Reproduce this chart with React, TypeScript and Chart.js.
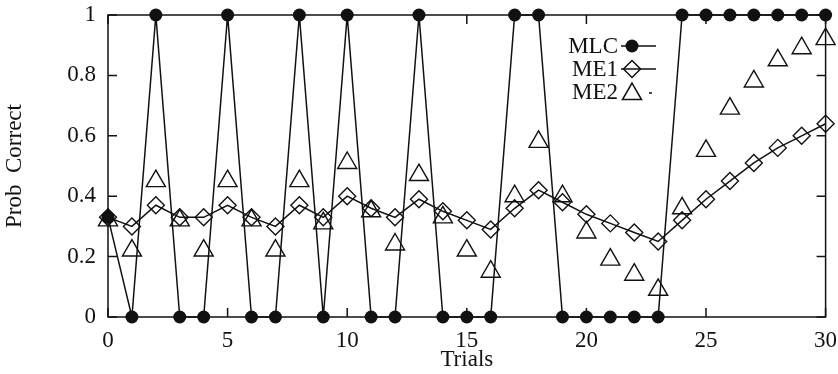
import React, { useEffect, useRef } from 'react';
import { Chart, registerables } from 'chart.js';

Chart.register(...registerables);

const trials = [0, 1, 2, 3, 4, 5, 6, 7, 8, 9, 10, 11, 12, 13, 14, 15, 16, 17, 18, 19, 20, 21, 22, 23, 24, 25, 26, 27, 28, 29, 30];
const mlc = [0.33, 0, 1, 0, 0, 1, 0, 0, 1, 0, 1, 0, 0, 1, 0, 0, 0, 1, 1, 0, 0, 0, 0, 0, 1, 1, 1, 1, 1, 1, 1];
const me1 = [0.33, 0.30, 0.37, 0.33, 0.33, 0.37, 0.33, 0.30, 0.37, 0.33, 0.40, 0.36, 0.33, 0.39, 0.35, 0.32, 0.29, 0.36, 0.42, 0.38, 0.34, 0.31, 0.28, 0.25, 0.32, 0.39, 0.45, 0.51, 0.56, 0.60, 0.64];
const me2 = [0.32, 0.22, 0.45, 0.32, 0.22, 0.45, 0.32, 0.22, 0.45, 0.31, 0.51, 0.35, 0.24, 0.47, 0.33, 0.22, 0.15, 0.40, 0.58, 0.40, 0.28, 0.19, 0.14, 0.09, 0.36, 0.55, 0.69, 0.78, 0.85, 0.89, 0.92];

const xTicks = [0, 5, 10, 15, 20, 25, 30];
const yTicks = [0, 0.2, 0.4, 0.6, 0.8, 1];
const seriesNames = ['MLC', 'ME1', 'ME2'];
const xTitle = 'Trials';
const yTitle = 'Prob  Correct';

const INK = '#111';
const FONT = "'Liberation Serif', 'Times New Roman', serif";
const FS = 23;

const framePlugin = {
  id: 'frameTicks',
  beforeDatasetsDraw(chart: any) {
    const { ctx, chartArea, scales } = chart;
    const { left, right, top, bottom } = chartArea;
    const len = 9;
    ctx.save();
    ctx.strokeStyle = INK;
    ctx.lineWidth = 1.5;
    ctx.strokeRect(left, top, right - left, bottom - top);
    ctx.beginPath();
    xTicks.forEach((v) => {
      const px = scales.x.getPixelForValue(v);
      ctx.moveTo(px, bottom);
      ctx.lineTo(px, bottom - len);
      ctx.moveTo(px, top);
      ctx.lineTo(px, top + len);
    });
    yTicks.forEach((v) => {
      const py = scales.y.getPixelForValue(v);
      ctx.moveTo(left, py);
      ctx.lineTo(left + len, py);
      ctx.moveTo(right, py);
      ctx.lineTo(right - len, py);
    });
    ctx.stroke();
    ctx.restore();
  },
};

const legendPlugin = {
  id: 'insideLegend',
  afterDatasetsDraw(chart: any) {
    const { ctx } = chart;
    const textRight = 618;
    const rows = [46, 69, 92];
    const mx = 632;
    ctx.save();
    ctx.fillStyle = INK;
    ctx.strokeStyle = INK;
    ctx.lineWidth = 1.5;
    ctx.font = `${FS}px ${FONT}`;
    ctx.textAlign = 'right';
    ctx.textBaseline = 'middle';
    seriesNames.forEach((name, i) => {
      ctx.fillText(name, textRight, rows[i] + 1);
    });
    // MLC sample
    ctx.beginPath();
    ctx.moveTo(621, rows[0]);
    ctx.lineTo(656, rows[0]);
    ctx.stroke();
    ctx.beginPath();
    ctx.arc(mx, rows[0], 6.5, 0, Math.PI * 2);
    ctx.fill();
    // ME1 sample
    ctx.beginPath();
    ctx.moveTo(621, rows[1]);
    ctx.lineTo(656, rows[1]);
    ctx.stroke();
    ctx.beginPath();
    ctx.moveTo(mx, rows[1] - 8.5);
    ctx.lineTo(mx + 8.5, rows[1]);
    ctx.lineTo(mx, rows[1] + 8.5);
    ctx.lineTo(mx - 8.5, rows[1]);
    ctx.closePath();
    ctx.stroke();
    // ME2 sample
    const r = 11;
    const cy = rows[2] + 2;
    ctx.beginPath();
    ctx.moveTo(mx, cy - r);
    ctx.lineTo(mx + r * Math.sin((2 * Math.PI) / 3), cy + r / 2);
    ctx.lineTo(mx - r * Math.sin((2 * Math.PI) / 3), cy + r / 2);
    ctx.closePath();
    ctx.stroke();
    ctx.beginPath();
    ctx.moveTo(649, rows[2] + 1);
    ctx.lineTo(652, rows[2] + 1);
    ctx.stroke();
    ctx.restore();
  },
};

export default function App() {
  const ref = useRef<HTMLCanvasElement | null>(null);

  useEffect(() => {
    if (!ref.current) return;
    const toPts = (arr: number[]) => trials.map((t, i) => ({ x: t, y: arr[i] }));
    const chart = new Chart(ref.current, {
      type: 'line',
      data: {
        datasets: [
          {
            label: seriesNames[0],
            data: toPts(mlc),
            borderColor: INK,
            borderWidth: 1.5,
            backgroundColor: INK,
            pointStyle: 'circle',
            pointRadius: 6.5,
            pointBorderWidth: 0,
            pointBackgroundColor: INK,
            tension: 0,
            clip: false,
            order: 3,
          },
          {
            label: seriesNames[1],
            data: toPts(me1),
            borderColor: INK,
            borderWidth: 1.5,
            backgroundColor: 'rgba(0,0,0,0)',
            pointStyle: 'rectRot',
            pointRadius: 8.5,
            pointBorderWidth: 1.4,
            pointBorderColor: INK,
            pointBackgroundColor: 'rgba(0,0,0,0)',
            tension: 0,
            clip: false,
            order: 2,
          },
          {
            label: seriesNames[2],
            data: toPts(me2),
            showLine: false,
            borderColor: INK,
            borderWidth: 1.4,
            backgroundColor: 'rgba(0,0,0,0)',
            pointStyle: 'triangle',
            pointRadius: 11,
            pointBorderWidth: 1.4,
            pointBorderColor: INK,
            pointBackgroundColor: 'rgba(0,0,0,0)',
            clip: false,
            order: 1,
          },
        ],
      },
      options: {
        animation: false,
        responsive: false,
        devicePixelRatio: 1,
        layout: { padding: { left: 0, right: 11, top: 15, bottom: 0 } },
        plugins: {
          legend: { display: false },
          tooltip: { enabled: false },
        },
        scales: {
          x: {
            type: 'linear',
            min: 0,
            max: 30,
            grid: { display: false, drawTicks: false },
            border: { display: false },
            afterFit: (s: any) => {
              s.height = 57;
              s.paddingLeft = 0;
              s.paddingRight = 0;
            },
            afterBuildTicks: (s: any) => {
              s.ticks = xTicks.map((v) => ({ value: v }));
            },
            ticks: {
              color: INK,
              font: { family: FONT, size: FS },
              padding: 10,
              maxRotation: 0,
              callback: (v: any) => String(v),
            },
            title: {
              display: true,
              text: xTitle,
              color: INK,
              font: { family: FONT, size: FS },
              padding: { top: 0, bottom: 0 },
            },
          },
          y: {
            type: 'linear',
            min: 0,
            max: 1,
            grid: { display: false, drawTicks: false },
            border: { display: false },
            afterFit: (s: any) => {
              s.width = 108;
              s.paddingTop = 0;
              s.paddingBottom = 0;
            },
            afterBuildTicks: (s: any) => {
              s.ticks = yTicks.map((v) => ({ value: v }));
            },
            ticks: {
              color: INK,
              font: { family: FONT, size: FS },
              padding: 12,
              callback: (v: any) => String(Math.round(Number(v) * 10) / 10),
            },
            title: {
              display: true,
              text: yTitle,
              color: INK,
              font: { family: FONT, size: FS },
              padding: { top: 1, bottom: 0 },
            },
          },
        },
      },
      plugins: [framePlugin, legendPlugin],
    } as any);
    return () => chart.destroy();
  }, []);

  return (
    <div style={{ position: 'fixed', left: 0, top: 0, width: 838, height: 374, background: '#fff' }}>
      <canvas ref={ref} width={838} height={374} style={{ display: 'block', width: 838, height: 374 }} />
    </div>
  );
}
